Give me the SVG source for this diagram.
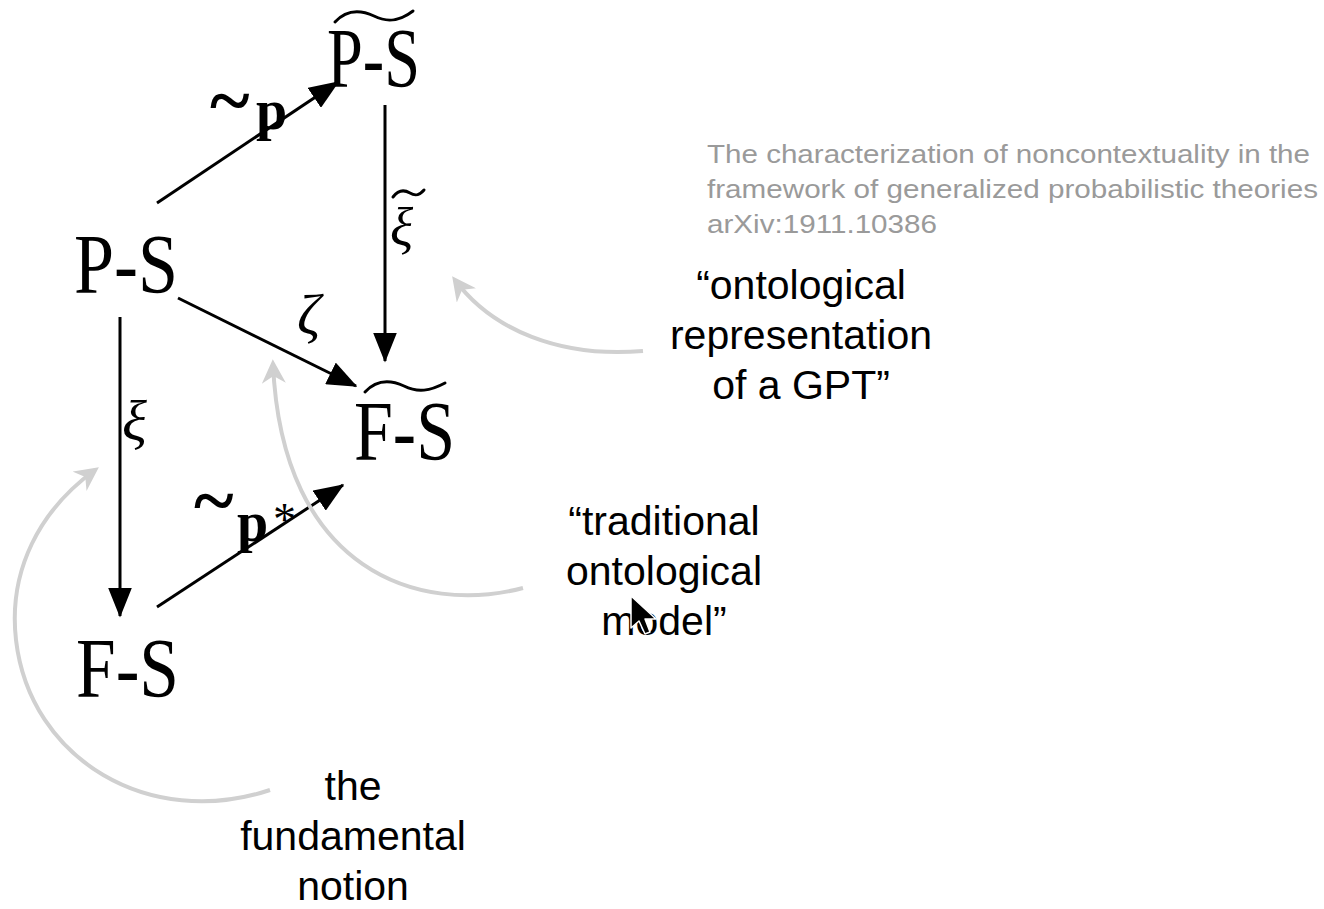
<svg xmlns="http://www.w3.org/2000/svg" width="1324" height="909" viewBox="0 0 1324 909">
  <style>
    .node { font-family: "Liberation Serif", "Times New Roman", serif; font-size: 84px; fill: #000; }
    .math { font-family: "Liberation Serif", "Times New Roman", serif; fill: #000; }
    .bold { font-weight: bold; }
    .ital { font-style: italic; }
    .note { font-family: "Liberation Sans", Arial, sans-serif; font-size: 41px; fill: #000; text-anchor: middle; }
    .ref { font-family: "Liberation Sans", Arial, sans-serif; font-size: 25px; fill: #9a9a9a; }
    .edge { stroke: #000; stroke-width: 3; fill: none; }
    .hint { stroke: #d0d0d0; stroke-width: 4; fill: none; }
    .accent { stroke: #000; stroke-width: 3; fill: none; stroke-linecap: round; }
  </style>
  <defs>
    <marker id="head" viewBox="0 0 10 8" refX="9.5" refY="4" markerWidth="10" markerHeight="8" markerUnits="strokeWidth" orient="auto">
      <path d="M0,0 L10,4 L0,8 z" fill="#000"/>
    </marker>
    <marker id="ghead" viewBox="0 0 10 10" refX="8" refY="5" markerWidth="6" markerHeight="6" markerUnits="strokeWidth" orient="auto">
      <path d="M0,0 L10,5 L0,10 L3,5 z" fill="#d0d0d0"/>
    </marker>
  </defs>

  <rect width="1324" height="909" fill="#fff"/>

  <!-- commutative square: morphisms -->
  <g id="connectors">
    <line class="edge" x1="157" y1="203" x2="338" y2="82" marker-end="url(#head)"/>
    <line class="edge" x1="385" y1="105" x2="385" y2="361" marker-end="url(#head)"/>
    <line class="edge" x1="178" y1="298" x2="356" y2="386" marker-end="url(#head)"/>
    <line class="edge" x1="120" y1="317" x2="120" y2="616" marker-end="url(#head)"/>
    <line class="edge" x1="157" y1="607" x2="343" y2="485" marker-end="url(#head)"/>
  </g>

  <!-- morphism labels -->
  <g id="label-p">
    <text class="math bold" x="210" y="126" font-size="76">~</text>
    <text class="math bold" x="256" y="129" font-size="56">p</text>
  </g>
  <g id="label-xi-tilde">
    <path class="accent" stroke-width="2.5" d="M393 197 C399 189 405 190 410 193 C415 196 419 196 424 190"/>
    <text class="math ital" x="390" y="246" font-size="54">ξ</text>
  </g>
  <g id="label-zeta">
    <text class="math ital" x="297" y="334" font-size="58">ζ</text>
  </g>
  <g id="label-xi">
    <text class="math ital" x="122" y="440" font-size="58">ξ</text>
  </g>
  <g id="label-p-star">
    <text class="math bold" x="194" y="526" font-size="76">~</text>
    <text class="math bold" x="237" y="541" font-size="56">p</text>
    <text class="math" x="273" y="535" font-size="46">*</text>
  </g>

  <!-- objects -->
  <g id="node-PS">
    <text class="node" x="74" y="293" textLength="104" lengthAdjust="spacingAndGlyphs">P-S</text>
  </g>
  <g id="node-PS-tilde">
    <path class="accent" d="M335 22 C347 9 361 10 374 16 C388 23 400 21 413 11"/>
    <text class="node" x="327" y="87" textLength="93" lengthAdjust="spacingAndGlyphs">P-S</text>
  </g>
  <g id="node-FS-tilde">
    <path class="accent" d="M365 392 C377 379 391 380 404 386 C418 393 430 391 445 383"/>
    <text class="node" x="354" y="460" textLength="101" lengthAdjust="spacingAndGlyphs">F-S</text>
  </g>
  <g id="node-FS">
    <text class="node" x="76" y="697" textLength="103" lengthAdjust="spacingAndGlyphs">F-S</text>
  </g>

  <!-- reference -->
  <g id="reference">
    <text class="ref" x="707" y="163" textLength="603" lengthAdjust="spacingAndGlyphs">The characterization of noncontextuality in the</text>
    <text class="ref" x="707" y="198" textLength="611" lengthAdjust="spacingAndGlyphs">framework of generalized probabilistic theories</text>
    <text class="ref" x="707" y="233" textLength="230" lengthAdjust="spacingAndGlyphs">arXiv:1911.10386</text>
  </g>

  <!-- annotations -->
  <g id="note-gpt">
    <text class="note" x="801" y="299">“ontological</text>
    <text class="note" x="801" y="349">representation</text>
    <text class="note" x="801" y="399">of a GPT”</text>
  </g>
  <g id="note-traditional">
    <text class="note" x="664" y="535">“traditional</text>
    <text class="note" x="664" y="585">ontological</text>
    <text class="note" x="664" y="635">model”</text>
  </g>
  <g id="note-fundamental">
    <text class="note" x="353" y="800">the</text>
    <text class="note" x="353" y="850">fundamental</text>
    <text class="note" x="353" y="900">notion</text>
  </g>

  <!-- pointers from annotations -->
  <g id="hints">
    <path class="hint" d="M643 351 C560 358 492 330 455 280" marker-end="url(#ghead)"/>
    <path class="hint" d="M523 588 C420 615 282 572 273 364" marker-end="url(#ghead)"/>
    <path class="hint" d="M270 790 C150 830 30 760 16 640 C8 570 40 510 95 470" marker-end="url(#ghead)"/>
  </g>

  <!-- pointer -->
  <g id="cursor">
    <path d="M631 596 L631 628 L639 621 L645 634 L650 632 L645 619 L656 619 Z" fill="#000" stroke="#fff" stroke-width="1.5" stroke-linejoin="round"/>
  </g>
</svg>
